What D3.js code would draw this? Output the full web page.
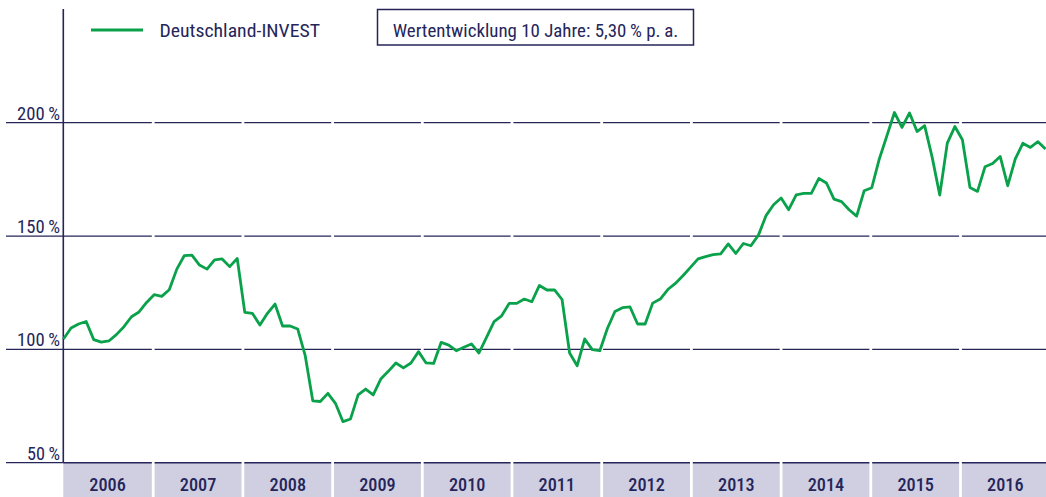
<!DOCTYPE html>
<html><head><meta charset="utf-8">
<script src="https://cdn.jsdelivr.net/npm/d3@7"></script>
<style>
html,body{margin:0;padding:0;background:#fff;}
svg{display:block;}
text{font-family:"Liberation Sans Narrow","Roboto Condensed","Roboto","DejaVu Sans",sans-serif;fill:#25255a;}
</style></head>
<body><svg id="c" width="1046" height="497"></svg>
<script>
const seriesName = "Deutschland-INVEST";
const infoText = "Wertentwicklung 10 Jahre: 5,30\u2009% p.\u2009a.";
const years = [2006,2007,2008,2009,2010,2011,2012,2013,2014,2015,2016];
const yTicks = [50,100,150,200];
const yTickLabels = ["50\u2009%","100\u2009%","150\u2009%","200\u2009%"];
// monthly values (%), index 0 = start 2006
const values = [
104.6,109.4,111.2,112.3,104.3,103.2,103.7,106.5,110,114.4,116.5,120.7,
124.1,123.4,126.3,135.4,141.4,141.6,137.2,135.4,139.5,139.9,136.5,140.1,
116.3,115.9,110.7,115.9,120,110.3,110.3,109,97.2,77.3,77,80.6,
76.2,68.1,69.3,79.9,82.5,79.9,86.9,90.3,94,91.8,94,99,
94,93.8,103.1,101.9,99.4,100.9,102.4,98.4,105.3,112.2,114.8,120.3,
120.3,122.2,121,128.2,126.2,126.2,122,98.4,92.8,104.6,99.9,99.4,
109.2,116.7,118.4,118.7,111.2,111.2,120.4,122.2,126.4,129.1,132.5,136.2,
139.9,140.9,141.8,142.1,146.5,142.3,146.7,145.7,150.4,159,163.8,166.8,
161.6,168.2,168.8,168.8,175.4,173.4,166.3,165.2,161.6,158.8,170,171.3,
184,194.2,204.5,197.9,204.3,196.1,198.7,184.7,168.1,191,198.3,192.5,
171.4,169.7,180.6,182,185.1,172.2,184,190.9,189.1,191.6,188.4
];

const svg = d3.select("#c");
const navy = "#25255a", green = "#0aa14b", band = "#cfcfe1";
const axisX = 63.3;
const x = d3.scaleLinear().domain([0, values.length - 1]).range([63.5, 1045.5]);
const y = d3.scaleLinear().domain([50, 200]).range([462.7, 122.7]);
const yearX = d3.scaleLinear().domain([2006, 2016]).range([63.5, 960.5]);
const gap = 1.4;

// year bands
years.forEach((yr, i) => {
  const x0 = i === 0 ? axisX : yearX(yr) + gap;
  const x1 = yearX(yr + 1) - gap;
  svg.append("rect").attr("x", x0).attr("y", y(50)).attr("width", x1 - x0).attr("height", 497 - y(50)).attr("fill", band);
  svg.append("text").attr("x", (x0 + x1) / 2).attr("y", 491).attr("text-anchor", "middle")
    .attr("font-size", 18).attr("font-weight", 500)
    .attr("textLength", 36.5).attr("lengthAdjust", "spacingAndGlyphs").text(yr);
});

// gridlines (segmented at year boundaries)
yTicks.forEach((t, k) => {
  const yy = y(t);
  svg.append("line").attr("x1", 6).attr("x2", axisX).attr("y1", yy).attr("y2", yy)
    .attr("stroke", navy).attr("stroke-width", 1.3);
  years.forEach((yr, i) => {
    const x0 = i === 0 ? axisX : yearX(yr) + gap;
    const x1 = Math.min(1046, yearX(yr + 1) - gap);
    svg.append("line").attr("x1", x0).attr("x2", x1).attr("y1", yy).attr("y2", yy)
      .attr("stroke", navy).attr("stroke-width", t === 50 ? 1.6 : 1.3);
  });
  const lab = yTickLabels[k];
  svg.append("text").attr("x", 60).attr("y", yy - 3).attr("text-anchor", "end")
    .attr("font-size", 18).attr("textLength", t === 50 ? 33 : 43).attr("lengthAdjust", "spacingAndGlyphs")
    .text(lab);
});

// y axis line
svg.append("line").attr("x1", axisX).attr("x2", axisX).attr("y1", 9).attr("y2", y(50))
  .attr("stroke", navy).attr("stroke-width", 1.6);

// series line
const line = d3.line().x((d, i) => x(i)).y(d => y(d));
svg.append("path").datum(values).attr("d", line).attr("fill", "none")
  .attr("stroke", green).attr("stroke-width", 2.8).attr("stroke-linejoin", "round");

// legend
svg.append("line").attr("x1", 91).attr("x2", 143).attr("y1", 30).attr("y2", 30)
  .attr("stroke", green).attr("stroke-width", 3);
svg.append("text").attr("x", 159.5).attr("y", 36.5).attr("font-size", 19)
  .attr("textLength", 160.5).attr("lengthAdjust", "spacingAndGlyphs").text(seriesName);

// info box
svg.append("rect").attr("x", 377.5).attr("y", 9.5).attr("width", 316).attr("height", 35.5)
  .attr("fill", "#fff").attr("stroke", navy).attr("stroke-width", 1.5);
svg.append("text").attr("x", 392.7).attr("y", 36.5).attr("font-size", 19)
  .attr("textLength", 285.5).attr("lengthAdjust", "spacingAndGlyphs").text(infoText);
</script></body></html>
